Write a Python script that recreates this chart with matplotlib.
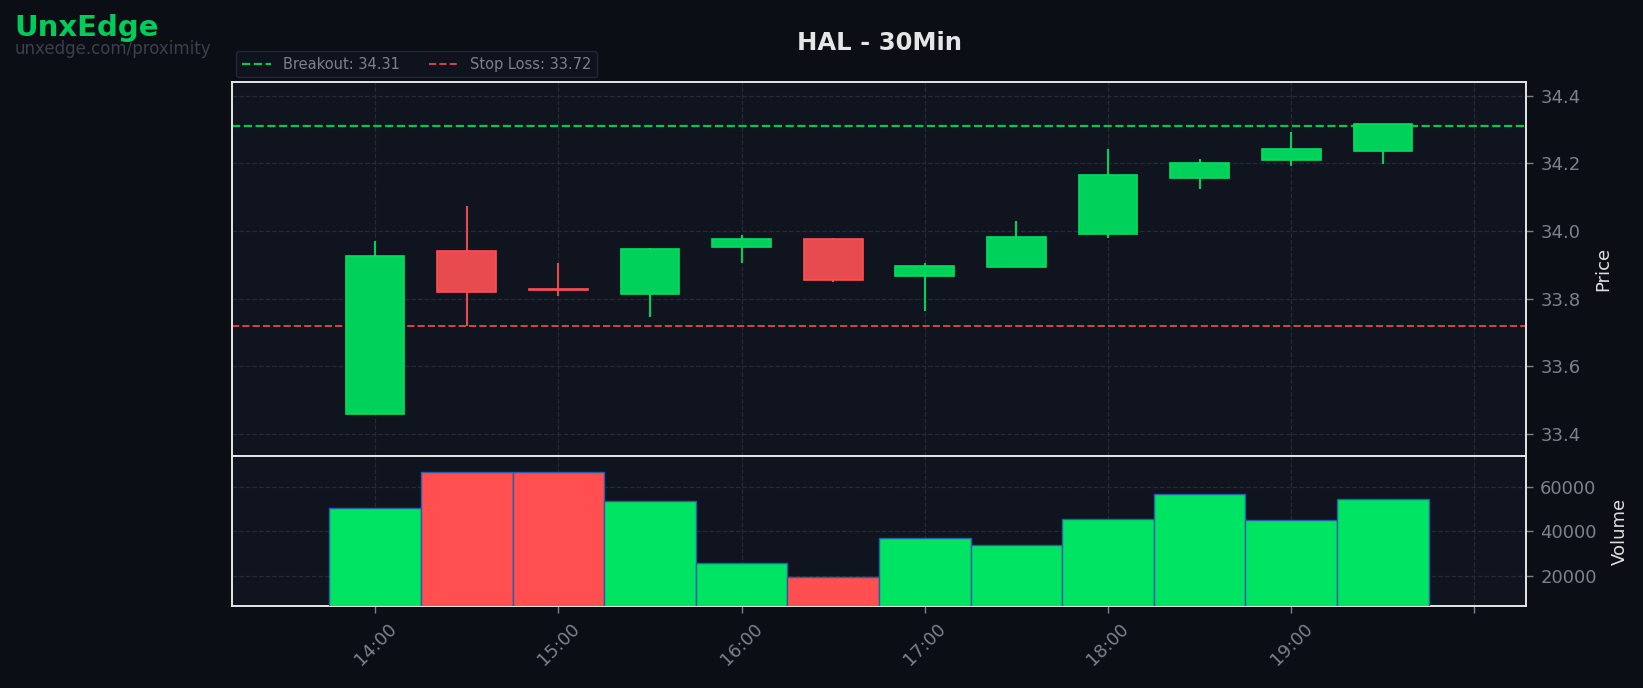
#!/usr/bin/env python3
"""HAL 30-minute candles with volume, breakout / stop-loss levels."""

from datetime import datetime, timedelta

import matplotlib

matplotlib.use("Agg")
import matplotlib.dates as mdates
import matplotlib.pyplot as plt
import numpy as np

# --- data ----------------------------------------------------------------
times = ["14:00", "14:30", "15:00", "15:30", "16:00", "16:30",
         "17:00", "17:30", "18:00", "18:30", "19:00", "19:30"]
opens = [33.458, 33.940, 33.828, 33.812, 33.952, 33.976,
         33.868, 33.892, 33.992, 34.158, 34.211, 34.237]
highs = [33.971, 34.074, 33.906, 33.950, 33.988, 33.979,
         33.906, 34.030, 34.242, 34.213, 34.293, 34.315]
lows = [33.458, 33.720, 33.806, 33.746, 33.906, 33.850,
        33.762, 33.892, 33.980, 34.125, 34.193, 34.199]
closes = [33.925, 33.819, 33.826, 33.946, 33.976, 33.856,
          33.897, 33.982, 34.165, 34.200, 34.242, 34.315]
volumes = [50400, 66600, 66600, 53500, 25500, 19400,
           36800, 33700, 45600, 56800, 45100, 54400]

breakout = 34.31
stop_loss = 33.72
hour_ticks = ["14:00", "15:00", "16:00", "17:00", "18:00", "19:00", "20:00"]
hour_labels = ["14:00", "15:00", "16:00", "17:00", "18:00", "19:00", ""]

# --- style ---------------------------------------------------------------
FIG_BG = "#0b0e15"
AX_BG = "#10141f"
GREEN = "#00d15a"
GREEN_EDGE = "#00e060"
RED = "#e84b4f"
RED_EDGE = "#ff4f52"
VOL_GREEN = "#00e463"
VOL_RED = "#ff4f50"
TICK = "#7d818c"
SPINE = "#e6e6e6"
GRID = "#262a36"

day = datetime(2024, 1, 2)


def _t(s: str) -> float:
    hh, mm = (int(p) for p in s.split(":"))
    return mdates.date2num(day + timedelta(hours=hh, minutes=mm))


x = np.array([_t(s) for s in times])
o = np.array(opens)
c = np.array(closes)
up = c > o

half_hour = 30 / (24 * 60)
body_w = 0.64 * half_hour

fig = plt.figure(figsize=(16.43, 6.88), dpi=100, facecolor=FIG_BG)
gs = fig.add_gridspec(2, 1, height_ratios=[2.5, 1], hspace=0,
                      left=0.141, right=0.929, top=0.881, bottom=0.119)
ax = fig.add_subplot(gs[0])
axv = fig.add_subplot(gs[1], sharex=ax)

for a in (ax, axv):
    a.set_facecolor(AX_BG)
    for sp in a.spines.values():
        sp.set_color(SPINE)
        sp.set_linewidth(1.4)
    a.yaxis.tick_right()
    a.yaxis.set_label_position("right")
    a.tick_params(colors=TICK, labelsize=13, length=5, width=1, pad=5)
    a.grid(True, color=GRID, linestyle="--", linewidth=0.9)
    a.set_axisbelow(True)

# candles
colors = [GREEN if u else RED for u in up]
edges = [GREEN_EDGE if u else RED_EDGE for u in up]
ax.vlines(x, lows, highs, colors=colors, linewidth=1.5, zorder=2)
ax.bar(x, np.abs(c - o), bottom=np.minimum(o, c), width=body_w,
       color=colors, edgecolor=edges, linewidth=1.2, zorder=3)

ax.axhline(breakout, color="#00c853", linestyle="--", linewidth=1.6,
           label=f"Breakout: {breakout:.2f}", zorder=1)
ax.axhline(stop_loss, color="#d9434a", linestyle="--", linewidth=1.4,
           label=f"Stop Loss: {stop_loss:.2f}", zorder=1)

ax.set_ylim(33.333, 34.441)
ax.set_yticks([33.4, 33.6, 33.8, 34.0, 34.2, 34.4])
ax.set_ylabel("Price", color="#e0e0e0", fontsize=13, labelpad=10)
plt.setp(ax.get_xticklabels(), visible=False)
ax.tick_params(axis="x", length=0)

leg = ax.legend(loc="lower left", bbox_to_anchor=(0.0, 1.0), ncol=2,
                fontsize=10.5, frameon=True, borderaxespad=0.3,
                columnspacing=2.0, handlelength=2.0)
leg.get_frame().set_facecolor("#111520")
leg.get_frame().set_edgecolor("#2a2e3a")
for txt in leg.get_texts():
    txt.set_color(TICK)

# volume
vcolors = [VOL_GREEN if u else VOL_RED for u in up]
axv.bar(x, volumes, width=half_hour, color=vcolors, edgecolor="#2a5ea8",
        linewidth=1.0, zorder=3)
axv.set_ylim(6300, 73700)
axv.set_yticks([20000, 40000, 60000])
axv.set_ylabel("Volume", color="#e0e0e0", fontsize=13, labelpad=10)

axv.set_xlim(_t("13:13"), _t("20:17"))
axv.set_xticks([_t(s) for s in hour_ticks])
axv.set_xticklabels(hour_labels, rotation=45, ha="center",
                    fontsize=13, color=TICK)

fig.text(0.535, 0.938, "HAL - 30Min", ha="center", va="center",
         fontsize=17.5, fontweight="bold", color="#e6e6e6")
fig.text(0.009, 0.96, "UnxEdge", ha="left", va="center",
         fontsize=21, fontweight="bold", color="#00cc5c")
fig.text(0.009, 0.929, "unxedge.com/proximity", ha="left", va="center",
         fontsize=12, color="#3a404c")

fig.savefig("out.png", dpi=100, facecolor=FIG_BG)
plt.close(fig)
